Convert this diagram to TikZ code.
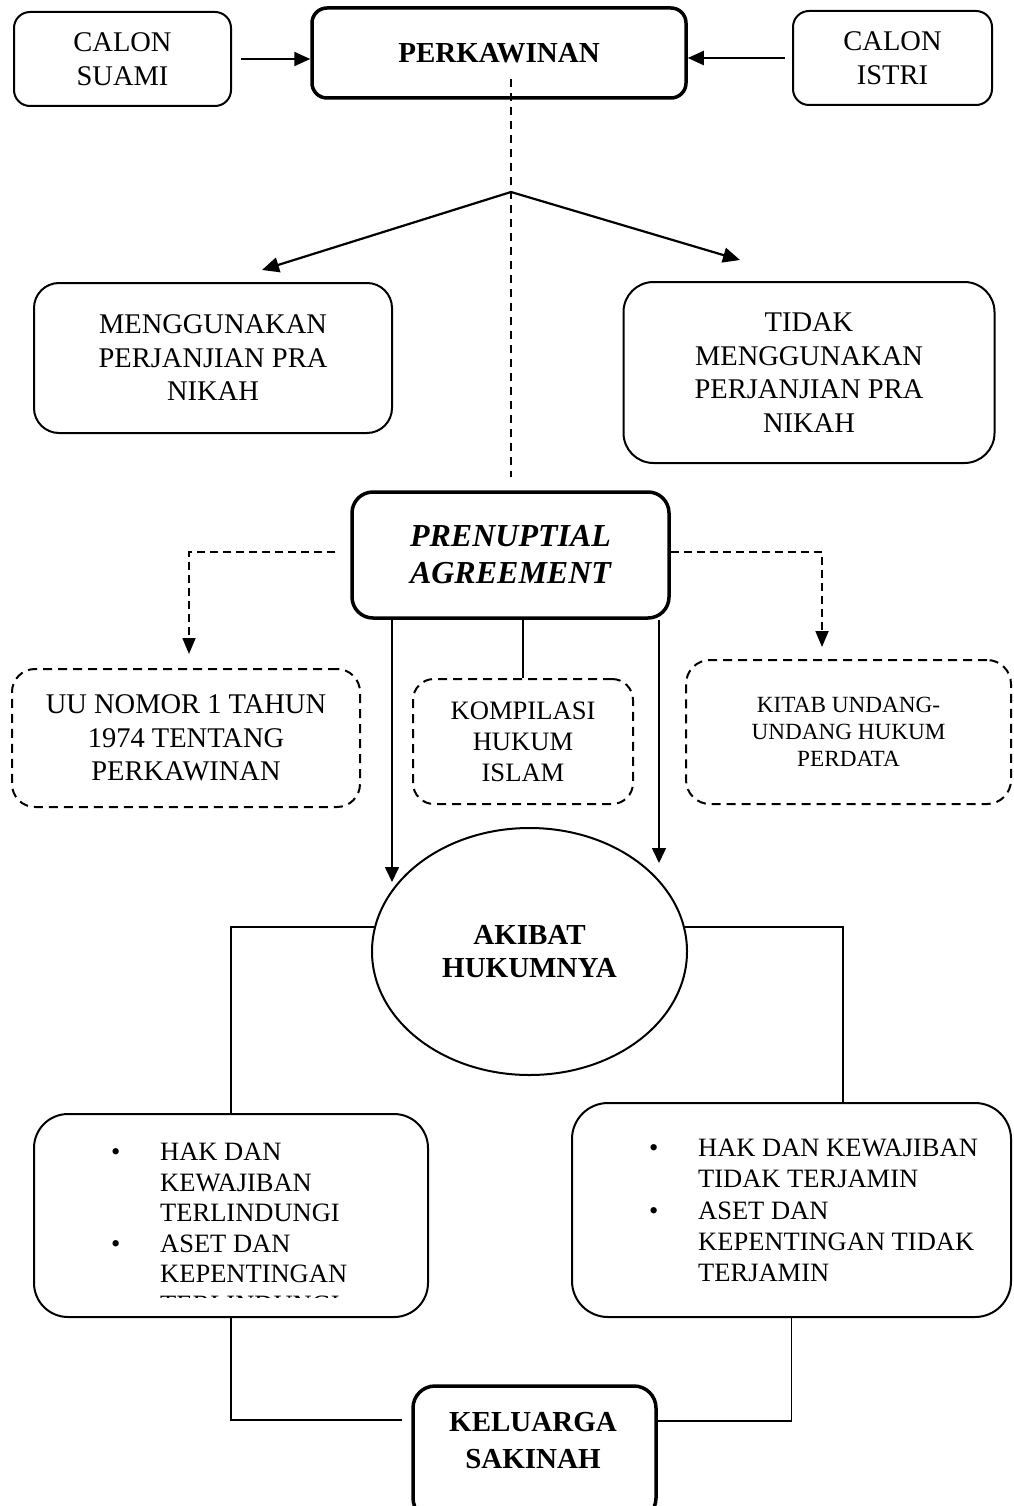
\documentclass[tikz,border=0pt]{standalone}
\usepackage{fontspec}
\setmainfont{Liberation Serif}
\usetikzlibrary{arrows.meta,shapes.geometric}
\begin{document}
\begin{tikzpicture}[x=1pt,y=-1pt,
  box/.style={draw, line width=2pt, align=center, inner sep=0pt},
  tbox/.style={box, line width=3.5pt},
  dbox/.style={box, dash pattern=on 9pt off 6pt},
  fmain/.style={font=\fontsize{28.5}{33.5}\selectfont},
  fbold/.style={font=\fontsize{29}{33}\selectfont\bfseries},
  fbi/.style={font=\fontsize{32}{37}\selectfont\bfseries\itshape},
  fkhi/.style={font=\fontsize{26.6}{31}\selectfont},
  fkuh/.style={font=\fontsize{23.2}{27}\selectfont},
  fbul/.style={font=\fontsize{26.5}{30.5}\selectfont},
  arr/.style={line width=2.2pt, -{Triangle[length=16pt,width=14pt]}},
  arrb/.style={line width=2.2pt, -{Triangle[length=17pt,width=15pt]}},
  arrv/.style={line width=1.6pt, -{Triangle[length=15pt,width=14pt]}},
  conn/.style={line width=1.6pt},
  darr/.style={line width=1.8pt, dash pattern=on 8pt off 5pt, -{Triangle[length=16pt,width=13pt]}},
  dline/.style={line width=1.4pt, dash pattern=on 8pt off 6pt},
]
\useasboundingbox (0,0) rectangle (1013,1506);
\clip (0,0) rectangle (1013,1506);

% top row
\node[box, rounded corners=16pt, minimum width=217pt, minimum height=94pt, fmain] (cs) at (122.5,59) {CALON\\SUAMI};
\node[tbox, rounded corners=15pt, minimum width=374pt, minimum height=90pt, fbold] (perk) at (499,53) {PERKAWINAN};
\node[box, rounded corners=16pt, minimum width=199pt, minimum height=94pt, fmain] (ci) at (892.5,58) {CALON\\ISTRI};

\draw[arr] ([xshift=9pt]cs.east) -- (perk.west |- cs.east);
\draw[arr] ([xshift=-7pt]ci.west) -- (perk.east |- ci.west);

% dashed spine and branches
\coordinate (dtop) at (511,79);
\coordinate (dbot) at (511,477);
\coordinate (br) at (511,192);
\coordinate (t1) at (262,270);
\coordinate (t2) at (740,260);
\draw[dline] (dtop) -- (dbot);
\draw[arrb] (br) -- (t1);
\draw[arrb] (br) -- (t2);

\node[box, rounded corners=25pt, minimum width=358pt, minimum height=150pt, fmain] (m1) at (213,358) {MENGGUNAKAN\\PERJANJIAN PRA\\NIKAH};
\node[box, rounded corners=30pt, minimum width=371pt, minimum height=181pt, fmain] (m2) at (809,372.5) {TIDAK\\MENGGUNAKAN\\PERJANJIAN PRA\\NIKAH};

% prenuptial agreement
\node[tbox, rounded corners=21pt, minimum width=317pt, minimum height=126pt, fbi] (pa) at (510.5,555) {PRENUPTIAL\\AGREEMENT};

\node[dbox, rounded corners=23pt, minimum width=348pt, minimum height=138pt, fmain] (uu) at (186,738) {UU NOMOR 1 TAHUN\\1974 TENTANG\\PERKAWINAN};
\node[dbox, rounded corners=21pt, minimum width=220pt, minimum height=125pt, fkhi] (khi) at (523,741.5) {KOMPILASI\\HUKUM\\ISLAM};
\node[dbox, rounded corners=24pt, minimum width=325pt, minimum height=144pt, fkuh] (kuh) at (848.5,732) {KITAB UNDANG-\\UNDANG HUKUM\\PERDATA};

\draw[darr] ([xshift=-15pt,yshift=3pt]pa.west) -| ([xshift=3pt,yshift=14pt]uu.north);
\draw[darr] ([yshift=3pt]pa.east) -| ([xshift=-26.5pt,yshift=12pt]kuh.north);

\coordinate (e1) at (392,882);
\coordinate (e2) at (659,863);
\draw[arrv] (pa.south -| e1) -- (e1);
\draw[arrv] (pa.south -| e2) -- (e2);
\draw[conn] (pa.south -| khi.north) -- (khi.north);

% result
\node[draw, ellipse, line width=2pt, inner sep=0pt, minimum width=315pt, minimum height=247pt, align=center, fbold] (ell) at (529.5,951.5) {AKIBAT\\HUKUMNYA};

\node[box, rounded corners=34pt, minimum width=394pt, minimum height=203pt] (lb) at (231,1215.5) {};
\node[box, rounded corners=36pt, minimum width=439pt, minimum height=214pt] (rb) at (791.5,1210) {};

\begin{scope}
\clip (0,1100) rectangle (1013,1297);
\node[anchor=north west, align=left, inner sep=0pt, fbul] (lbt) at (111,1143)
  {\makebox[49pt][l]{\textbullet}HAK DAN\\
   \hspace*{49pt}KEWAJIBAN\\
   \hspace*{49pt}TERLINDUNGI\\
   \makebox[49pt][l]{\textbullet}ASET DAN\\
   \hspace*{49pt}KEPENTINGAN\\
   \hspace*{49pt}TERLINDUNGI};
\end{scope}
\node[anchor=north west, align=left, inner sep=0pt, font=\fontsize{26.5}{31.2}\selectfont] (rbt) at (649,1139)
  {\makebox[49pt][l]{\textbullet}HAK DAN KEWAJIBAN\\
   \hspace*{49pt}TIDAK TERJAMIN\\
   \makebox[49pt][l]{\textbullet}ASET DAN\\
   \hspace*{49pt}KEPENTINGAN TIDAK\\
   \hspace*{49pt}TERJAMIN};

\draw[conn] (ell.171) -| (lb.north);
\draw[conn] (ell.9) -| ([xshift=51.5pt]rb.north);

\node[tbox, rounded corners=22pt, minimum width=243pt, minimum height=134pt] (kel) at (534.5,1453) {};
\node[align=center, inner sep=0pt, font=\fontsize{29}{37}\selectfont\bfseries] (kelt) at (533,1441) {KELUARGA\\SAKINAH};

\draw[conn] (lb.south) |- ([xshift=-9pt,yshift=33pt]kel.west);
\draw[conn] (rb.south) |- ([yshift=32pt]kel.east);
\end{tikzpicture}
\end{document}
